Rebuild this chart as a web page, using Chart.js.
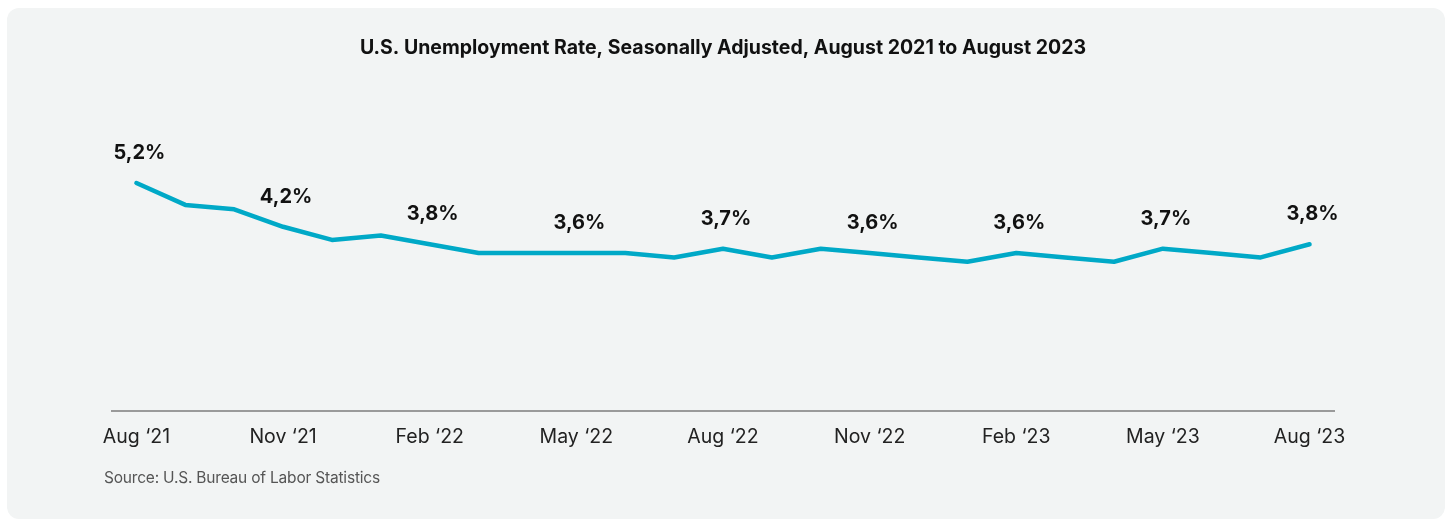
<!DOCTYPE html>
<html>
<head>
<meta charset="utf-8">
<script src="https://cdn.jsdelivr.net/npm/chart.js@4"></script>
<style>
  html, body { margin: 0; padding: 0; background: #ffffff; }
  body { width: 1450px; height: 520px; position: relative; overflow: hidden; }
  #panel { position: absolute; left: 7px; top: 8px; width: 1438px; height: 511px;
           background: #f2f4f4; border-radius: 12px; }
  #wrap { position: absolute; left: 0; top: 0; width: 1450px; height: 520px; }
  #source { position: absolute; left: 104px; top: 468px; font-family: Inter, Lato, sans-serif;
            font-size: 15.5px; color: #555; letter-spacing: -0.2px; }
</style>
</head>
<body>
<div id="panel"></div>
<div id="wrap"><canvas id="chart" width="1450" height="520"></canvas></div>
<div id="source">Source: U.S. Bureau of Labor Statistics</div>
<script>
// Monthly unemployment rate, Aug 2021 – Aug 2023
const months = [
  "Aug ‘21", "Sep ‘21", "Oct ‘21", "Nov ‘21", "Dec ‘21", "Jan ‘22", "Feb ‘22", "Mar ‘22", "Apr ‘22",
  "May ‘22", "Jun ‘22", "Jul ‘22", "Aug ‘22", "Sep ‘22", "Oct ‘22", "Nov ‘22", "Dec ‘22", "Jan ‘23",
  "Feb ‘23", "Mar ‘23", "Apr ‘23", "May ‘23", "Jun ‘23", "Jul ‘23", "Aug ‘23"
];
const unemploymentRate = [
  5.2, 4.7, 4.6, 4.2, 3.9, 4.0, 3.8, 3.6, 3.6,
  3.6, 3.6, 3.5, 3.7, 3.5, 3.7, 3.6, 3.5, 3.4,
  3.6, 3.5, 3.4, 3.7, 3.6, 3.5, 3.8
];
// Every third month is labelled on the axis and above the line
const labelledMonths = [
  "Aug ‘21", "Nov ‘21", "Feb ‘22", "May ‘22", "Aug ‘22", "Nov ‘22", "Feb ‘23", "May ‘23", "Aug ‘23"
];

const LINE_COLOR = "#00a9c7";
const FONT = "Inter, Lato, sans-serif";

const valueLabels = {
  id: "valueLabels",
  afterDatasetsDraw(chart) {
    const ctx = chart.ctx;
    const meta = chart.getDatasetMeta(0);
    ctx.save();
    ctx.font = "bold 20px " + FONT;
    ctx.fillStyle = "#111";
    ctx.textAlign = "center";
    ctx.textBaseline = "middle";
    months.forEach((m, i) => {
      if (!labelledMonths.includes(m)) return;
      const pt = meta.data[i];
      const text = unemploymentRate[i].toFixed(1).replace(".", ",") + "%";
      ctx.fillText(text, pt.x + 3, pt.y - 30);
    });
    ctx.restore();
  }
};

new Chart(document.getElementById("chart"), {
  type: "line",
  data: {
    labels: months,
    datasets: [{
      data: unemploymentRate,
      borderColor: LINE_COLOR,
      borderWidth: 4.5,
      pointRadius: 0,
      tension: 0,
      borderCapStyle: "round",
      borderJoinStyle: "round",
      fill: false
    }]
  },
  options: {
    responsive: false,
    animation: false,
    layout: { padding: { left: 112, right: 116, top: 0, bottom: 56 } },
    plugins: {
      legend: { display: false },
      tooltip: { enabled: false },
      title: {
        display: true,
        text: "U.S. Unemployment Rate, Seasonally Adjusted, August 2021 to August 2023",
        color: "#111",
        font: { family: FONT, size: 19.5, weight: "bold", lineHeight: 1.2 },
        padding: { top: 36, bottom: 88.6 }
      }
    },
    scales: {
      x: {
        type: "category",
        offset: true,
        grid: { display: false, drawTicks: false },
        border: { display: true, color: "#9a9a9a", width: 2 },
        ticks: {
          autoSkip: false,
          maxRotation: 0,
          color: "#222",
          padding: 15,
          font: { family: FONT, size: 19.5 },
          callback: function (value) {
            const lbl = this.getLabelForValue(value);
            return labelledMonths.includes(lbl) ? lbl : "";
          }
        }
      },
      y: {
        display: false,
        min: 0,
        max: 6
      }
    }
  },
  plugins: [valueLabels]
});
</script>
</body>
</html>
